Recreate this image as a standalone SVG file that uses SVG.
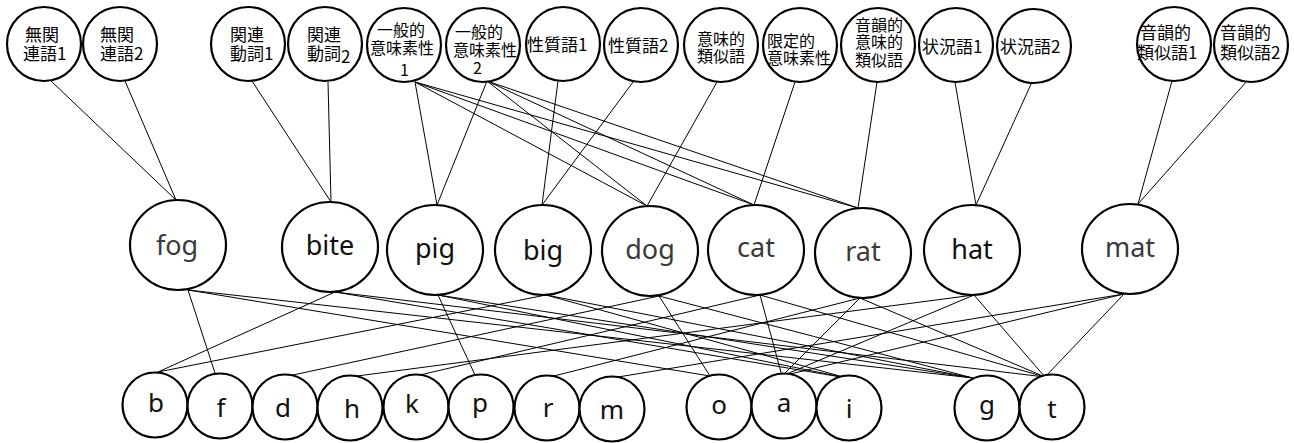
<svg xmlns="http://www.w3.org/2000/svg" width="1294" height="443" viewBox="0 0 1294 443">
<style>
.c{fill:#fff;stroke:#000;stroke-width:2.2}
.j{font-family:"Noto Sans CJK JP","Noto Sans CJK SC",sans-serif;font-size:17px;fill:#000}
.s{font-size:16px}
.w{font-family:"Noto Sans","Open Sans",sans-serif;font-size:27px;fill:#111;text-anchor:middle}
.g{fill:#3a3a3a}
.l{font-family:"Noto Sans","Open Sans",sans-serif;font-size:26px;fill:#111;text-anchor:middle}
.e line{stroke:#000;stroke-width:1}
</style>
<rect width="1294" height="443" fill="#fff"/>
<g class="e" id="connectors">
<line x1="50" y1="80" x2="176" y2="200"/>
<line x1="125" y1="81" x2="176" y2="200"/>
<line x1="252" y1="81" x2="331" y2="202"/>
<line x1="328" y1="82" x2="331" y2="202"/>
<line x1="415" y1="82" x2="437" y2="205"/>
<line x1="415" y1="82" x2="647" y2="206"/>
<line x1="415" y1="82" x2="754" y2="205"/>
<line x1="415" y1="82" x2="858" y2="208"/>
<line x1="487" y1="81" x2="437" y2="205"/>
<line x1="487" y1="81" x2="647" y2="206"/>
<line x1="487" y1="81" x2="754" y2="205"/>
<line x1="487" y1="81" x2="858" y2="208"/>
<line x1="558" y1="81" x2="542" y2="205"/>
<line x1="633" y1="82" x2="542" y2="205"/>
<line x1="717" y1="82" x2="647" y2="206"/>
<line x1="795" y1="82" x2="754" y2="205"/>
<line x1="877" y1="82" x2="858" y2="208"/>
<line x1="955" y1="82" x2="976" y2="205"/>
<line x1="1032" y1="82" x2="976" y2="205"/>
<line x1="1172" y1="81" x2="1138" y2="204"/>
<line x1="1247" y1="81" x2="1138" y2="204"/>
<line x1="188" y1="290" x2="215" y2="373"/>
<line x1="188" y1="290" x2="710" y2="376"/>
<line x1="188" y1="290" x2="973" y2="378"/>
<line x1="335" y1="292" x2="158" y2="372"/>
<line x1="335" y1="292" x2="847" y2="378"/>
<line x1="335" y1="292" x2="1045" y2="377"/>
<line x1="438" y1="295" x2="475" y2="375"/>
<line x1="438" y1="295" x2="847" y2="378"/>
<line x1="438" y1="295" x2="973" y2="378"/>
<line x1="546" y1="295" x2="158" y2="372"/>
<line x1="546" y1="295" x2="847" y2="378"/>
<line x1="546" y1="295" x2="973" y2="378"/>
<line x1="659" y1="296" x2="293" y2="375"/>
<line x1="659" y1="296" x2="710" y2="376"/>
<line x1="659" y1="296" x2="973" y2="378"/>
<line x1="760" y1="295" x2="420" y2="375"/>
<line x1="760" y1="295" x2="782" y2="376"/>
<line x1="760" y1="295" x2="1045" y2="377"/>
<line x1="860" y1="298" x2="550" y2="377"/>
<line x1="860" y1="298" x2="782" y2="376"/>
<line x1="860" y1="298" x2="1045" y2="377"/>
<line x1="974" y1="295" x2="357" y2="376"/>
<line x1="974" y1="295" x2="782" y2="376"/>
<line x1="974" y1="295" x2="1045" y2="377"/>
<line x1="1124" y1="294" x2="618" y2="377"/>
<line x1="1124" y1="294" x2="782" y2="376"/>
<line x1="1124" y1="294" x2="1045" y2="377"/>
</g>
<g id="n-muk1"><circle class="c" cx="44" cy="44" r="37"/><text class="j"><tspan x="25" y="41">無関</tspan><tspan x="23" y="60">連語1</tspan></text></g>
<g id="n-muk2"><circle class="c" cx="120" cy="44" r="37"/><text class="j"><tspan x="100" y="41">無関</tspan><tspan x="100" y="60">連語2</tspan></text></g>
<g id="n-kd1"><circle class="c" cx="248" cy="44" r="37"/><text class="j"><tspan x="230" y="41">関連</tspan><tspan x="230" y="60">動詞1</tspan></text></g>
<g id="n-kd2"><circle class="c" cx="325" cy="44" r="37"/><text class="j"><tspan x="307" y="41">関連</tspan><tspan x="307" y="60">動詞</tspan><tspan dy="3">2</tspan></text></g>
<g id="n-ip1"><circle class="c" cx="404" cy="45" r="37"/><text class="j s"><tspan x="377" y="36">一般的</tspan><tspan x="370" y="54">意味素性</tspan><tspan x="400" y="76">1</tspan></text></g>
<g id="n-ip2"><circle class="c" cx="483" cy="45" r="37"/><text class="j s"><tspan x="455" y="38">一般的</tspan><tspan x="453" y="56">意味素性</tspan><tspan x="473" y="74">2</tspan></text></g>
<g id="n-sg1"><circle class="c" cx="563" cy="44" r="37"/><text class="j" x="527" y="51">性質語1</text></g>
<g id="n-sg2"><circle class="c" cx="641" cy="45" r="37"/><text class="j" x="608" y="52">性質語2</text></g>
<g id="n-irg"><circle class="c" cx="721" cy="45" r="37"/><text class="j s"><tspan x="697" y="45">意味的</tspan><tspan x="697" y="62">類似語</tspan></text></g>
<g id="n-gtp"><circle class="c" cx="800" cy="45" r="37"/><text class="j s"><tspan x="767" y="47">限定的</tspan><tspan x="767" y="64">意味素性</tspan></text></g>
<g id="n-oir"><circle class="c" cx="878" cy="45" r="37"/><text class="j s"><tspan x="855" y="31">音韻的</tspan><tspan x="855" y="48">意味的</tspan><tspan x="855" y="66">類似語</tspan></text></g>
<g id="n-jk1"><circle class="c" cx="956" cy="45" r="37"/><text class="j" x="922" y="53">状況語1</text></g>
<g id="n-jk2"><circle class="c" cx="1034" cy="46" r="37"/><text class="j" x="1000" y="53">状況語2</text></g>
<g id="n-or1"><circle class="c" cx="1174" cy="44" r="37"/><text class="j"><tspan x="1140" y="39">音韻的</tspan><tspan x="1137" y="59">類似語1</tspan></text></g>
<g id="n-or2"><circle class="c" cx="1251" cy="45" r="37"/><text class="j"><tspan x="1220" y="39">音韻的</tspan><tspan x="1220" y="59">類似語2</tspan></text></g>
<g id="n-fog"><ellipse class="c" cx="178" cy="245" rx="48" ry="45"/><text class="w g" x="177" y="255">fog</text></g>
<g id="n-bite"><ellipse class="c" cx="330" cy="247" rx="48" ry="45"/><text class="w" x="330" y="255">bite</text></g>
<g id="n-pig"><ellipse class="c" cx="435" cy="250" rx="48" ry="45"/><text class="w" x="435" y="258">pig</text></g>
<g id="n-big"><ellipse class="c" cx="543" cy="250" rx="48" ry="45"/><text class="w" x="543" y="260">big</text></g>
<g id="n-dog"><ellipse class="c" cx="650" cy="251" rx="48" ry="45"/><text class="w g" x="650" y="259">dog</text></g>
<g id="n-cat"><ellipse class="c" cx="756" cy="250" rx="48" ry="45"/><text class="w g" x="756" y="257">cat</text></g>
<g id="n-rat"><ellipse class="c" cx="863" cy="253" rx="48" ry="45"/><text class="w g" x="863" y="261">rat</text></g>
<g id="n-hat"><ellipse class="c" cx="972" cy="250" rx="48" ry="45"/><text class="w" x="972" y="259">hat</text></g>
<g id="n-mat"><ellipse class="c" cx="1130" cy="249" rx="48" ry="45"/><text class="w g" x="1130" y="257">mat</text></g>
<g id="n-b"><circle class="c" cx="155" cy="405" r="32.5"/><text class="l" x="156" y="412">b</text></g>
<g id="n-f"><circle class="c" cx="220" cy="406" r="32.5"/><text class="l g" x="221" y="417">f</text></g>
<g id="n-d"><circle class="c" cx="285" cy="407" r="32.5"/><text class="l g" x="283" y="417">d</text></g>
<g id="n-h"><circle class="c" cx="350" cy="408" r="32.5"/><text class="l" x="352" y="418">h</text></g>
<g id="n-k"><circle class="c" cx="416" cy="407" r="32.5"/><text class="l g" x="412" y="413">k</text></g>
<g id="n-p"><circle class="c" cx="481" cy="407" r="32.5"/><text class="l" x="480" y="412">p</text></g>
<g id="n-r"><circle class="c" cx="547" cy="408" r="32.5"/><text class="l g" x="548" y="417">r</text></g>
<g id="n-m"><circle class="c" cx="612" cy="409" r="32.5"/><text class="l g" x="612" y="419">m</text></g>
<g id="n-o"><circle class="c" cx="719" cy="407" r="32.5"/><text class="l g" x="719" y="414">o</text></g>
<g id="n-a"><circle class="c" cx="784" cy="406" r="32.5"/><text class="l g" x="784" y="412">a</text></g>
<g id="n-i"><circle class="c" cx="849" cy="408" r="32.5"/><text class="l" x="849" y="418">i</text></g>
<g id="n-g"><circle class="c" cx="987" cy="408" r="32.5"/><text class="l g" x="987" y="414">g</text></g>
<g id="n-t"><circle class="c" cx="1052" cy="407" r="32.5"/><text class="l g" x="1052" y="418">t</text></g>
</svg>
